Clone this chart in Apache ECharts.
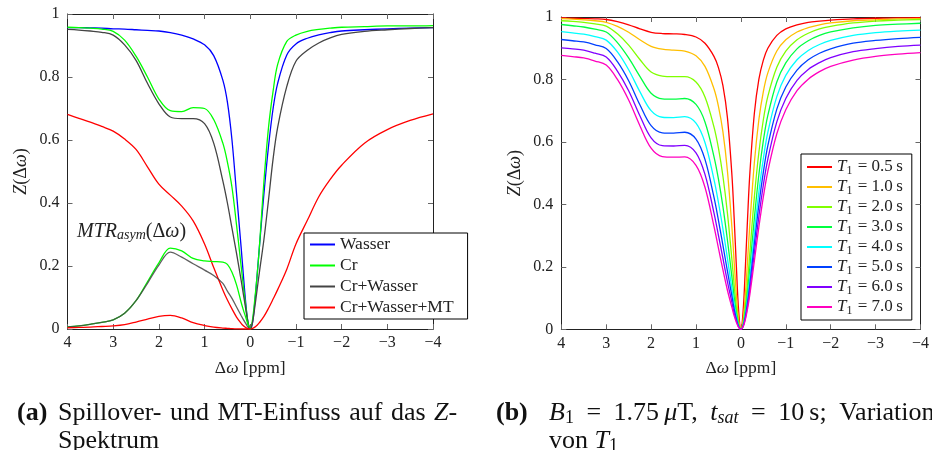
<!DOCTYPE html>
<html><head><meta charset="utf-8">
<script src="https://cdn.jsdelivr.net/npm/echarts@6/dist/echarts.min.js"></script>
<style>html,body{margin:0;padding:0;background:#fff}#c{width:932px;height:450px}</style>
</head><body><div id="c"></div>
<script>
// shared frequency offsets (ppm), plotted from +4 to -4
const xs = [4, 3.75, 3.5, 3.25, 3, 2.75, 2.5, 2.25, 2, 1.75, 1.5, 1.25, 1, 0.8, 0.6, 0.5, 0.4, 0.3, 0.2, 0.15, 0.1, 0.05, 0,
  -0.05, -0.1, -0.15, -0.2, -0.3, -0.4, -0.5, -0.6, -0.8, -1, -1.25, -1.5, -1.75, -2, -2.5, -3, -3.5, -4];
const xsPos = xs.slice(0, 23);
const xTicks = [4, 3, 2, 1, 0, -1, -2, -3, -4];
const yTicks = [0, 0.2, 0.4, 0.6, 0.8, 1];

// ---- panel (a) ----
const namesA = ['Wasser', 'Cr', 'Cr+Wasser', 'Cr+Wasser+MT'];
const zWasser = [.957,.957,.956,.955,.953,.952,.950,.948,.946,.941,.933,.921,.902,.868,.79,.72,.60,.43,.26,.17,.085,.022,0,
  .022,.085,.17,.26,.43,.58,.70,.78,.87,.905,.923,.934,.941,.946,.950,.953,.955,.957];
const zCr = [.958,.957,.955,.952,.945,.917,.866,.80,.73,.693,.69,.703,.70,.665,.59,.53,.45,.33,.20,.135,.075,.022,0,
  .03,.095,.17,.26,.47,.64,.755,.84,.913,.933,.945,.951,.955,.958,.960,.962,.962,.963];
const zCrW = [.951,.949,.946,.942,.933,.902,.853,.78,.715,.673,.668,.668,.652,.59,.47,.40,.32,.24,.155,.11,.065,.02,0,
  .02,.07,.125,.18,.285,.41,.54,.64,.77,.85,.885,.908,.924,.935,.945,.950,.954,.957];
const zCrWMT = [.681,.669,.657,.643,.628,.603,.57,.515,.46,.425,.39,.343,.27,.195,.124,.092,.064,.038,.018,.01,.005,.001,0,
  .002,.006,.012,.02,.04,.066,.095,.125,.19,.27,.345,.42,.475,.52,.59,.633,.662,.683];
const mtrCr = [.007,.01,.015,.021,.029,.05,.09,.15,.21,.257,.248,.224,.216,.214,.212,.205,.18,.14,.085,.06,.038,.015,0];
const mtrCrW = [.007,.01,.015,.021,.029,.05,.09,.145,.203,.244,.228,.207,.187,.17,.145,.12,.097,.07,.043,.03,.018,.006,0];
const mtrCrWMT = [.004,.005,.006,.008,.01,.014,.022,.031,.04,.043,.035,.02,.011,.006,.003,.002,.001,.0005,0,0,0,0,0];
const colorsA = ['#0000ff', '#00ff00', '#444444', '#ff0000'];

// ---- panel (b) ----
const t1Labels = ['0.5', '1.0', '2.0', '3.0', '4.0', '5.0', '6.0', '7.0'];
const colorsB = ['#ff0000', '#ffbf00', '#80ff00', '#00ff40', '#00ffff', '#0040ff', '#8000ff', '#ff00bf'];
const zT1_05 = [.998,.996,.995,.994,.992,.985,.975,.962,.951,.947,.946,.944,.936,.916,.874,.838,.780,.678,.494,.356,.199,.059,0,
  .059,.2,.36,.5,.692,.8,.862,.9,.941,.962,.975,.983,.987,.99,.994,.996,.997,.998];
const zT1_10 = [.995,.993,.991,.988,.983,.970,.951,.927,.906,.897,.894,.891,.876,.842,.770,.714,.632,.507,.326,.216,.110,.030,0,
  .031,.113,.223,.338,.534,.671,.761,.821,.891,.927,.952,.966,.975,.981,.988,.991,.994,.995];
const zT1_20 = [.988,.986,.983,.978,.971,.946,.910,.864,.824,.811,.809,.809,.792,.744,.648,.580,.490,.372,.223,.142,.070,.019,0,
  .020,.075,.155,.246,.424,.566,.671,.746,.839,.891,.927,.948,.962,.970,.981,.987,.990,.992];
const zT1_30 = [.976,.972,.968,.961,.952,.918,.869,.810,.756,.738,.737,.739,.720,.664,.553,.481,.393,.286,.167,.104,.051,.014,0,
  .015,.058,.122,.198,.356,.495,.604,.685,.792,.853,.898,.924,.941,.952,.965,.973,.977,.980];
const zT1_40 = [.953,.949,.945,.937,.926,.888,.831,.761,.700,.679,.678,.681,.660,.598,.480,.406,.321,.227,.130,.080,.040,.010,0,
  .012,.048,.101,.166,.308,.439,.547,.631,.745,.813,.863,.893,.912,.925,.941,.950,.955,.958];
const zT1_50 = [.928,.924,.920,.911,.899,.857,.796,.719,.652,.629,.628,.631,.609,.544,.423,.349,.269,.186,.106,.065,.033,.009,0,
  .011,.041,.088,.145,.274,.398,.503,.588,.705,.776,.830,.863,.884,.898,.916,.925,.931,.935];
const zT1_60 = [.901,.898,.894,.884,.872,.827,.764,.684,.613,.588,.587,.589,.565,.496,.373,.301,.227,.153,.086,.052,.027,.007,0,
  .009,.036,.076,.127,.245,.361,.462,.545,.664,.739,.797,.832,.854,.870,.889,.899,.906,.910];
const zT1_70 = [.877,.873,.869,.859,.846,.800,.734,.652,.580,.553,.551,.552,.525,.455,.330,.260,.190,.125,.070,.043,.022,.006,0,
  .008,.031,.067,.112,.219,.327,.424,.506,.626,.703,.764,.801,.825,.842,.862,.874,.881,.886];
const seriesB = [zT1_05, zT1_10, zT1_20, zT1_30, zT1_40, zT1_50, zT1_60, zT1_70];

const FONT = 'Liberation Serif';
const INK = '#222';
const CAP = '#111';
const pairs = (xv, yv) => xv.map((x, i) => [x, yv[i]]);
const fmtX = v => v < 0 ? '\u2212' + (-v) : String(v);
const fmtY = v => (v === 0 ? '0' : (Math.abs(v - 1) < 1e-9 ? '1' : v.toFixed(1)));
const ital = (s) => ({ fontStyle: 'italic', fontFamily: FONT, fontSize: s, color: INK });

function xAx(g, pos) {
  return {
    type: 'value', gridIndex: g, position: pos, min: -4, max: 4, interval: 1, inverse: true,
    axisLine: { show: true, onZero: false, lineStyle: { color: INK, width: 1 } },
    axisTick: { show: true, inside: true, length: 5, lineStyle: { color: '#666' } },
    splitLine: { show: false },
    axisLabel: { show: pos === 'bottom', formatter: fmtX, color: INK, fontFamily: FONT, fontSize: 16, margin: 6 },
    name: pos === 'bottom' ? '\u0394{i|\u03c9} [ppm]' : '',
    nameLocation: 'middle', nameGap: 30,
    nameTextStyle: { color: INK, fontFamily: FONT, fontSize: 17.5, rich: { i: ital(17.5) } }
  };
}
function yAx(g, pos) {
  return {
    type: 'value', gridIndex: g, position: pos, min: 0, max: 1, interval: 0.2,
    axisLine: { show: true, onZero: false, lineStyle: { color: INK, width: 1 } },
    axisTick: { show: true, inside: true, length: 5, lineStyle: { color: '#666' } },
    splitLine: { show: false },
    axisLabel: { show: pos === 'left', formatter: fmtY, color: INK, fontFamily: FONT, fontSize: 16, margin: 8 },
    name: pos === 'left' ? '{i|Z}(\u0394{i|\u03c9})' : '',
    nameLocation: 'middle', nameGap: 37, nameRotate: 90,
    nameTextStyle: { color: INK, fontFamily: FONT, fontSize: 18, rich: { i: ital(18) } }
  };
}

const series = [];
const zA = [zWasser, zCr, zCrW, zCrWMT];
zA.forEach((ys, i) => series.push({
  name: namesA[i], type: 'line', xAxisIndex: 0, yAxisIndex: 0, data: pairs(xs, ys),
  symbol: 'none', smooth: 0.35, lineStyle: { width: 1.3, color: colorsA[i] }, itemStyle: { color: colorsA[i] }, z: 3
}));
[[mtrCr, 1, 1], [mtrCrW, 2, 0.85], [mtrCrWMT, 3, 1]].forEach(([ys, ci, op]) => series.push({
  name: 'MTR ' + namesA[ci], type: 'line', xAxisIndex: 0, yAxisIndex: 0, data: pairs(xsPos, ys),
  symbol: 'none', smooth: 0.35, lineStyle: { width: 1.3, color: colorsA[ci], opacity: op }, itemStyle: { color: colorsA[ci] }, z: 3
}));
const namesB = t1Labels.map(t => 'T1=' + t);
seriesB.forEach((ys, i) => series.push({
  name: namesB[i], type: 'line', xAxisIndex: 2, yAxisIndex: 2, data: pairs(xs, ys),
  symbol: 'none', smooth: 0.35, lineStyle: { width: 1.3, color: colorsB[i] }, itemStyle: { color: colorsB[i] }, z: 3
}));

const capRich = {
  i: { fontStyle: 'italic', fontFamily: FONT, fontSize: 26, fill: CAP },
  s: { fontStyle: 'italic', fontFamily: FONT, fontSize: 18, fill: CAP, padding: [10, 0, 0, 0] },
  n: { fontFamily: FONT, fontSize: 18, fill: CAP, padding: [10, 0, 0, 0] },
  g: { fontFamily: FONT, fontSize: 26, width: 8.5 },
  w: { fontFamily: FONT, fontSize: 26, width: 12.5 }
};

const chart = echarts.init(document.getElementById('c'), null, { renderer: 'canvas' });
chart.setOption({
  animation: false,
  backgroundColor: '#fff',
  grid: [
    { left: 67.5, top: 14, width: 365.5, height: 315 },
    { left: 561.3, top: 17, width: 362.7, height: 312.3 }
  ],
  xAxis: [xAx(0, 'bottom'), xAx(0, 'top'), xAx(1, 'bottom'), xAx(1, 'top')],
  yAxis: [yAx(0, 'left'), yAx(0, 'right'), yAx(1, 'left'), yAx(1, 'right')],
  legend: [
    {
      data: namesA, left: 304, top: 233, orient: 'vertical', icon: 'rect', itemWidth: 25, itemHeight: 2, itemGap: 0,
      padding: [1, 14, 1, 6], backgroundColor: '#fff', borderColor: '#000', borderWidth: 1,
      textStyle: { color: INK, fontFamily: FONT, fontSize: 17.5, lineHeight: 21 }, selectedMode: false
    },
    {
      data: namesB, left: 801, top: 154, orient: 'vertical', icon: 'rect', itemWidth: 25, itemHeight: 2, itemGap: 0,
      padding: [3, 9, 3, 6], backgroundColor: '#fff', borderColor: '#000', borderWidth: 1,
      selectedMode: false,
      formatter: n => '{i|T}{s|1} = ' + n.slice(3) + '\u2009s',
      textStyle: {
        color: INK, fontFamily: FONT, fontSize: 17, lineHeight: 20,
        rich: {
          i: { fontStyle: 'italic', fontFamily: FONT, fontSize: 17, color: INK, lineHeight: 20 },
          s: { fontFamily: FONT, fontSize: 12, color: INK, lineHeight: 20, padding: [7, 1, 0, 0] }
        }
      }
    }
  ],
  graphic: [
    {
      type: 'text', left: 77, top: 222, z: 10,
      style: {
        text: '{i|MTR}{s|asym}(\u0394{i|\u03c9})', fill: INK, font: '20px "' + FONT + '"',
        rich: {
          i: { fontStyle: 'italic', fontFamily: FONT, fontSize: 20, fill: INK },
          s: { fontStyle: 'italic', fontFamily: FONT, fontSize: 14, fill: INK, padding: [7, 0, 0, 0] }
        }
      }
    },
    { type: 'text', left: 17, top: 400, style: { text: '(a)', fill: CAP, font: 'bold 26px "' + FONT + '"' } },
    {
      type: 'text', left: 58, top: 400,
      style: {
        text: 'Spillover-{g| }und{g| }MT-Einfuss{g| }auf{g| }das{g| }{i|Z}-', fill: CAP, font: '26px "' + FONT + '"',
        rich: capRich
      }
    },
    { type: 'text', left: 58, top: 428, style: { text: 'Spektrum', fill: CAP, font: '26px "' + FONT + '"' } },
    { type: 'text', left: 496, top: 400, style: { text: '(b)', fill: CAP, font: 'bold 26px "' + FONT + '"' } },
    {
      type: 'text', left: 549, top: 400,
      style: {
        text: '{i|B}{n|1}{w| }={w| }1.75\u2009{i|\u03bc}T,{w| }{i|t}{s|sat}{w| }={w| }10\u2009s;{w| }Variation', fill: CAP,
        font: '26px "' + FONT + '"', rich: capRich
      }
    },
    {
      type: 'text', left: 549, top: 428,
      style: { text: 'von {i|T}{n|1}', fill: CAP, font: '26px "' + FONT + '"', rich: capRich }
    }
  ],
  series: series
});
</script></body></html>
